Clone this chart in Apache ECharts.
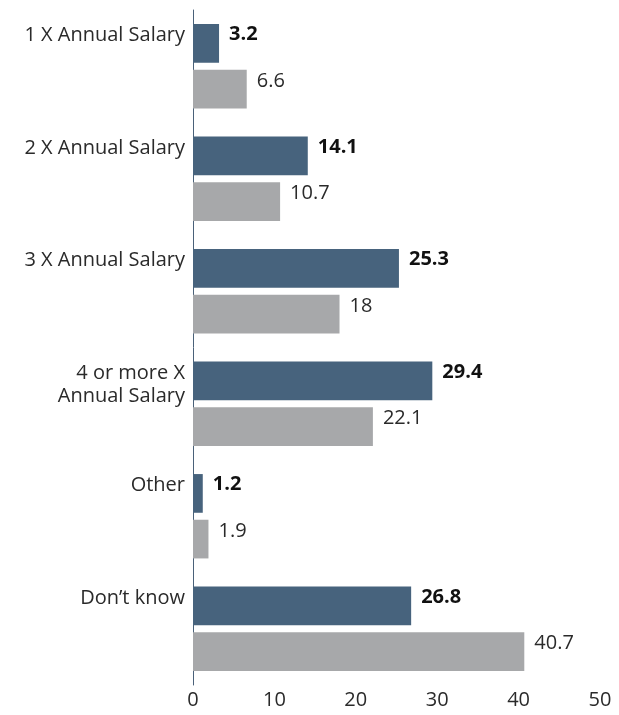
<!DOCTYPE html>
<html>
<head>
<meta charset="utf-8">
<script src="https://cdn.jsdelivr.net/npm/echarts@6/dist/echarts.min.js"></script>
<style>
  html, body { margin: 0; padding: 0; background: #fff; }
  #chart { width: 619px; height: 715px; }
</style>
</head>
<body>
<div id="chart"></div>
<script>
// Life insurance coverage amount, by response (%)
const categories = ['1 X Annual Salary', '2 X Annual Salary', '3 X Annual Salary', '4 or more X\nAnnual Salary', 'Other', 'Don\u2019t know'];
const seriesPrimary = [3.2, 14.1, 25.3, 29.4, 1.2, 26.8];
const seriesSecondary = [6.6, 10.7, 18, 22.1, 1.9, 40.7];
const xTicks = [0, 10, 20, 30, 40, 50];

const FONT = '"Open Sans", "Noto Sans", sans-serif';

const chart = echarts.init(document.getElementById('chart'), null, { renderer: 'canvas' });
chart.setOption({
  animation: false,
  grid: { left: 193, right: 19, top: 10, bottom: 30, containLabel: false },
  xAxis: {
    type: 'value',
    min: xTicks[0],
    max: xTicks[xTicks.length - 1],
    interval: xTicks[1] - xTicks[0],
    axisLine: { show: false },
    axisTick: { show: false },
    splitLine: { show: false },
    axisLabel: { color: '#2a2a2a', fontFamily: FONT, fontSize: 20, margin: 5 }
  },
  yAxis: {
    type: 'category',
    data: categories,
    inverse: true,
    axisLine: { show: true, lineStyle: { color: '#4a6179', width: 1 } },
    axisTick: { show: false },
    axisLabel: {
      color: '#2a2a2a',
      fontFamily: FONT,
      fontSize: 20,
      lineHeight: 23,
      margin: 8,
      align: 'right',
      verticalAlign: 'top',
      padding: [-42, 0, 0, 0]
    }
  },
  series: [
    {
      name: 'primary',
      type: 'bar',
      data: seriesPrimary,
      barGap: '18%',
      barCategoryGap: '25%',
      itemStyle: { color: '#47637d' },
      label: {
        show: true,
        position: 'right',
        distance: 10,
        offset: [0, -9],
        color: '#111',
        fontFamily: FONT,
        fontSize: 20,
        fontWeight: 'bold'
      }
    },
    {
      name: 'secondary',
      type: 'bar',
      data: seriesSecondary,
      itemStyle: { color: '#a7a8aa' },
      label: {
        show: true,
        position: 'right',
        distance: 10,
        offset: [0, -8],
        color: '#2a2a2a',
        fontFamily: FONT,
        fontSize: 20
      }
    }
  ]
});
</script>
</body>
</html>
